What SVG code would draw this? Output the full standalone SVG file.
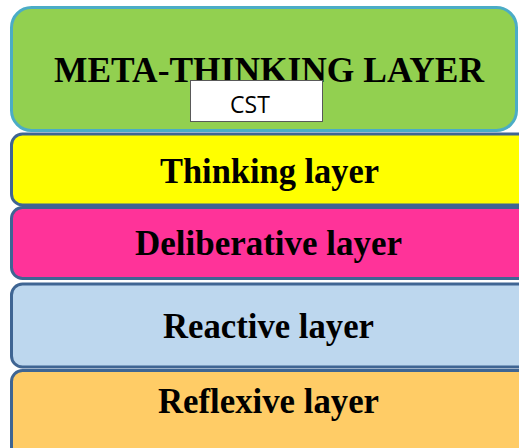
<svg xmlns="http://www.w3.org/2000/svg" width="519" height="448" viewBox="0 0 519 448">
  <style>
    .layer { stroke: #3F6593; stroke-width: 3; }
    .label { font-family: "Liberation Serif", "Times New Roman", serif; font-weight: bold; font-size: 35px; fill: #000; text-anchor: middle; }
  </style>
  <rect width="519" height="448" fill="#ffffff"/>

  <g id="meta-thinking">
    <rect x="11.5" y="7.5" width="505" height="123" rx="20" fill="#92D050" stroke="#4BACC6" stroke-width="3"/>
    <text class="label" x="269" y="82" font-size="36" textLength="430" lengthAdjust="spacingAndGlyphs">META-THINKING LAYER</text>
  </g>

  <g id="cst">
    <rect x="190.5" y="80.5" width="132" height="41" fill="#ffffff" stroke="#595959" stroke-width="1"/>
    <text x="250" y="113" font-family="'Open Sans', 'Liberation Sans', sans-serif" font-size="23" fill="#000" text-anchor="middle">CST</text>
  </g>

  <g id="thinking">
    <rect class="layer" x="11.5" y="134" width="530" height="71" rx="11" fill="#FFFF00"/>
    <text class="label" x="269.5" y="183" textLength="219" lengthAdjust="spacingAndGlyphs">Thinking layer</text>
  </g>

  <g id="deliberative">
    <rect class="layer" x="11.5" y="207.5" width="530" height="71" rx="11" fill="#FF3399"/>
    <text class="label" x="268.5" y="255" textLength="267" lengthAdjust="spacingAndGlyphs">Deliberative layer</text>
  </g>

  <g id="reactive">
    <rect class="layer" x="11.5" y="284" width="530" height="83" rx="11" fill="#BDD7EE"/>
    <text class="label" x="268.5" y="338" textLength="211" lengthAdjust="spacingAndGlyphs">Reactive layer</text>
  </g>

  <g id="reflexive">
    <rect class="layer" x="11.5" y="370.5" width="530" height="100" rx="11" fill="#FFCC66"/>
    <text class="label" x="268.5" y="413" textLength="221" lengthAdjust="spacingAndGlyphs">Reflexive layer</text>
  </g>

  <g id="connectors"></g>
</svg>
